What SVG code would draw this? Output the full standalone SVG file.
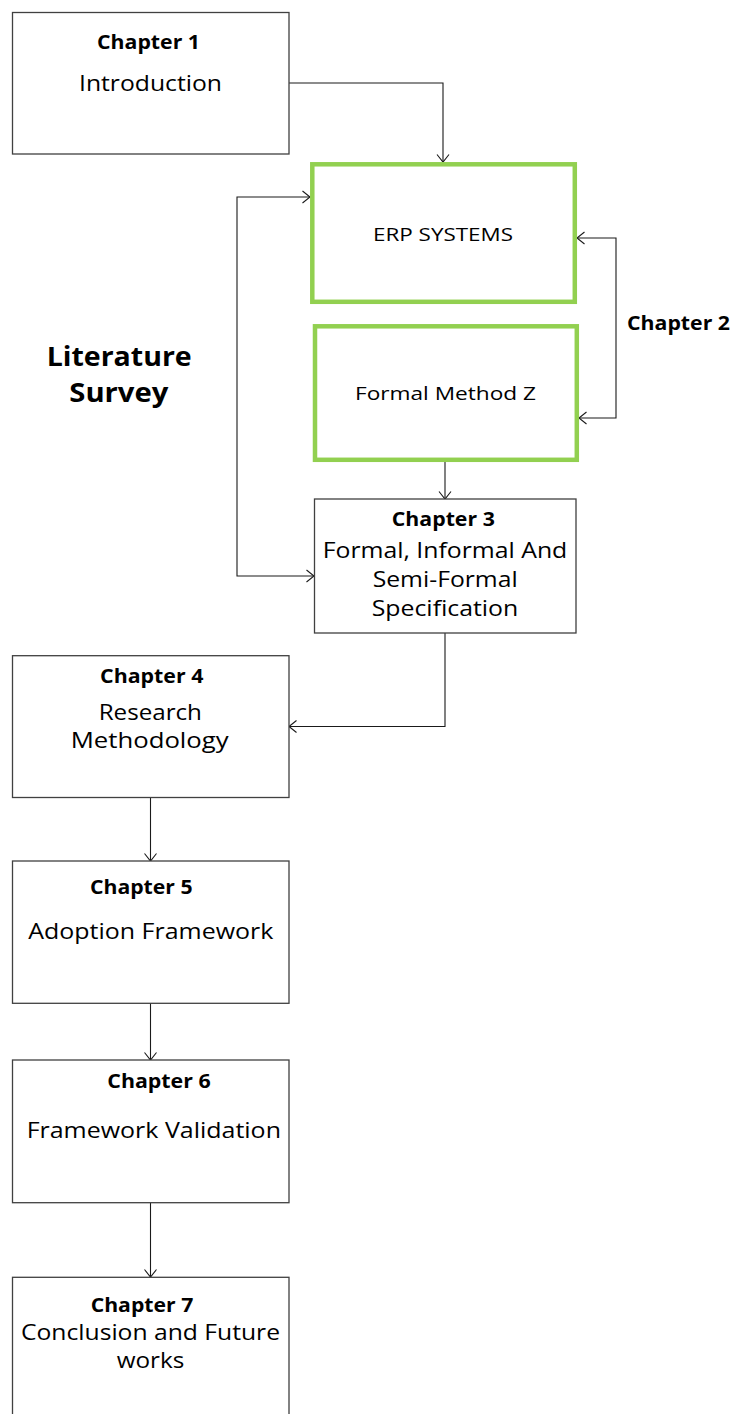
<svg xmlns="http://www.w3.org/2000/svg" width="733" height="1414" viewBox="0 0 733 1414">
  <style>
    .box { fill: #ffffff; stroke: #404040; stroke-width: 1.3; }
    .green { fill: #ffffff; stroke: #92D050; stroke-width: 4.5; }
    .link { fill: none; stroke: #1a1a1a; stroke-width: 1.1; }
    .t { font-family: "Open Sans", "Noto Sans", sans-serif; fill: #000; text-anchor: middle; }
    .b { font-weight: bold; }
  </style>
  <defs>
    <marker id="chev" viewBox="0 0 9 14" markerWidth="9" markerHeight="14" refX="8.5" refY="7" orient="auto-start-reverse" markerUnits="userSpaceOnUse">
      <path d="M1,1 L8.5,7 L1,13" fill="none" stroke="#1a1a1a" stroke-width="1.1"/>
    </marker>
  </defs>

  <rect width="733" height="1414" fill="#ffffff"/>

  <!-- connectors -->
  <g id="connectors">
    <path class="link" d="M289,83 H443 V162" marker-end="url(#chev)"/>
    <path class="link" d="M310,197 H237 V576 H314" marker-start="url(#chev)" marker-end="url(#chev)"/>
    <path class="link" d="M577,238 H616 V418 H579" marker-start="url(#chev)" marker-end="url(#chev)"/>
    <path class="link" d="M445,462 V499" marker-end="url(#chev)"/>
    <path class="link" d="M445,633 V726.5 H289" marker-end="url(#chev)"/>
    <path class="link" d="M150.5,797 V861" marker-end="url(#chev)"/>
    <path class="link" d="M150.5,1003 V1060" marker-end="url(#chev)"/>
    <path class="link" d="M150.5,1203 V1277" marker-end="url(#chev)"/>
  </g>

  <!-- Chapter 1 -->
  <g id="chapter1">
    <rect class="box" x="12.5" y="12.5" width="276.5" height="141.5"/>
    <text class="t b" x="148.5" y="48.5" font-size="19" textLength="103" lengthAdjust="spacingAndGlyphs">Chapter 1</text>
    <text class="t" x="150.5" y="90.5" font-size="22" textLength="143" lengthAdjust="spacingAndGlyphs">Introduction</text>
  </g>

  <!-- Chapter 2: ERP systems -->
  <g id="erp">
    <rect class="green" x="312.3" y="164.3" width="262.5" height="137.5"/>
    <text class="t" x="443" y="240.5" font-size="18.5" textLength="140" lengthAdjust="spacingAndGlyphs">ERP SYSTEMS</text>
  </g>

  <!-- Chapter 2: Formal Method Z -->
  <g id="formal-z">
    <rect class="green" x="315" y="326.3" width="261.8" height="133.5"/>
    <text class="t" x="445.5" y="400" font-size="18" textLength="181" lengthAdjust="spacingAndGlyphs">Formal Method Z</text>
  </g>

  <!-- Chapter 2 label -->
  <g id="chapter2-label">
    <text class="t b" x="678.5" y="330" font-size="19" textLength="103" lengthAdjust="spacingAndGlyphs">Chapter 2</text>
  </g>

  <!-- Literature Survey label -->
  <g id="literature-survey">
    <text class="t b" x="119.2" y="366" font-size="26" textLength="145" lengthAdjust="spacingAndGlyphs">Literature</text>
    <text class="t b" x="118.8" y="401.5" font-size="26" textLength="99" lengthAdjust="spacingAndGlyphs">Survey</text>
  </g>

  <!-- Chapter 3 -->
  <g id="chapter3">
    <rect class="box" x="314.5" y="499" width="261.5" height="134"/>
    <text class="t b" x="443.3" y="526" font-size="19" textLength="103" lengthAdjust="spacingAndGlyphs">Chapter 3</text>
    <text class="t" x="445" y="558.3" font-size="22" textLength="244.6" lengthAdjust="spacingAndGlyphs">Formal, Informal And</text>
    <text class="t" x="445.2" y="587.3" font-size="22" textLength="145" lengthAdjust="spacingAndGlyphs">Semi-Formal</text>
    <text class="t" x="445" y="616.3" font-size="22" textLength="146.6" lengthAdjust="spacingAndGlyphs">Specification</text>
  </g>

  <!-- Chapter 4 -->
  <g id="chapter4">
    <rect class="box" x="12.5" y="655.7" width="276.5" height="141.8"/>
    <text class="t b" x="151.7" y="683.3" font-size="19" textLength="103.3" lengthAdjust="spacingAndGlyphs">Chapter 4</text>
    <text class="t" x="150.3" y="720" font-size="22" textLength="103.3" lengthAdjust="spacingAndGlyphs">Research</text>
    <text class="t" x="149.7" y="748.3" font-size="22" textLength="158" lengthAdjust="spacingAndGlyphs">Methodology</text>
  </g>

  <!-- Chapter 5 -->
  <g id="chapter5">
    <rect class="box" x="12.5" y="861" width="276.5" height="142.3"/>
    <text class="t b" x="141.3" y="894.3" font-size="19" textLength="102.7" lengthAdjust="spacingAndGlyphs">Chapter 5</text>
    <text class="t" x="150.8" y="939.3" font-size="22" textLength="245" lengthAdjust="spacingAndGlyphs">Adoption Framework</text>
  </g>

  <!-- Chapter 6 -->
  <g id="chapter6">
    <rect class="box" x="12.5" y="1060" width="276.5" height="142.7"/>
    <text class="t b" x="159" y="1088.3" font-size="19" textLength="103.4" lengthAdjust="spacingAndGlyphs">Chapter 6</text>
    <text class="t" x="153.8" y="1138.3" font-size="22" textLength="254.3" lengthAdjust="spacingAndGlyphs">Framework Validation</text>
  </g>

  <!-- Chapter 7 -->
  <g id="chapter7">
    <rect class="box" x="12.5" y="1277.3" width="276.5" height="150"/>
    <text class="t b" x="142" y="1311.7" font-size="19" textLength="102.6" lengthAdjust="spacingAndGlyphs">Chapter 7</text>
    <text class="t" x="150.5" y="1340" font-size="22" textLength="259" lengthAdjust="spacingAndGlyphs">Conclusion and Future</text>
    <text class="t" x="150.5" y="1368.3" font-size="22" textLength="67.6" lengthAdjust="spacingAndGlyphs">works</text>
  </g>
</svg>
